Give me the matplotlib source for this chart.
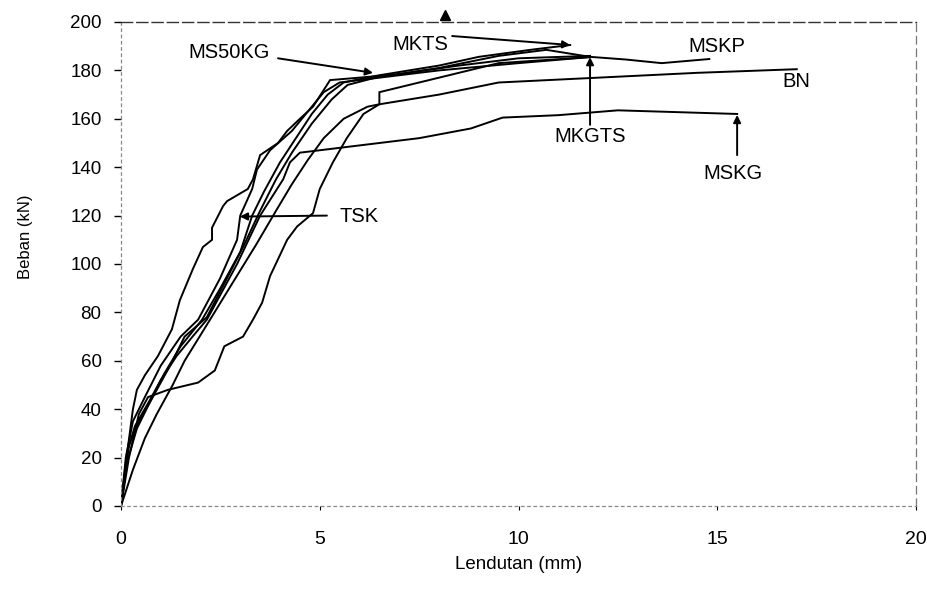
import matplotlib
matplotlib.use('Agg')
import matplotlib.pyplot as plt

plt.rcParams['font.family'] = ['Liberation Sans', 'DejaVu Sans']

# === Load-deflection data (Lendutan mm, Beban kN) ===
ms50kg_x = [0, 0.18, 0.3, 0.4, 0.6, 0.93, 1.28, 1.48, 1.81, 2.06, 2.29, 2.29, 2.57, 2.67, 3.19, 3.32, 3.5, 3.95, 4.18, 4.5, 4.83, 5.26, 6.0, 7.0, 8.5, 10.0, 11.8]
ms50kg_y = [0, 25, 40, 48, 54, 62, 73, 85, 98, 107, 110, 115, 124, 126, 131, 135, 145, 150, 155, 160, 165, 176, 177, 178.5, 182, 185, 186]

tsk_x = [0, 0.12, 0.3, 0.6, 1.0, 1.5, 1.94, 2.49, 2.92, 3.0, 3.3, 3.42, 3.75, 4.3, 4.7, 5.1, 5.5, 6.5, 8.0, 10.0, 11.8]
tsk_y = [0, 20, 35, 45, 58, 70, 77, 94, 110, 120, 131, 139, 147, 155, 163, 171, 175, 177, 180, 183, 185.5]

mkts_x = [0, 0.15, 0.35, 0.7, 1.1, 1.5, 2.04, 2.5, 3.0, 3.3, 3.6, 4.0, 4.4, 4.8, 5.2, 5.6, 6.5, 8.0, 9.0, 10.3, 11.3]
mkts_y = [0, 22, 33, 43, 55, 66, 77, 90, 105, 120, 130, 142, 152, 162, 170, 175, 178, 182, 185.6, 188.5, 190.5]

mskp_x = [0, 0.2, 0.45, 0.8, 1.3, 1.6, 2.16, 2.6, 3.1, 3.5, 3.9, 4.3, 4.8, 5.3, 5.7, 6.4, 8.0, 9.5, 10.7, 11.8, 12.7, 13.6, 14.8]
mskp_y = [0, 25, 35, 45, 60, 70, 78, 92, 108, 122, 135, 146, 158, 168, 174, 177, 181, 186, 188.5, 185.6, 184.5, 183, 184.7]

mkgts_x = [0, 0.3, 0.6, 0.9, 1.3, 1.6, 2.24, 2.8, 3.4, 3.9, 4.3, 4.7, 5.1, 5.6, 6.2, 6.5, 6.5, 8.0, 9.5, 11.8]
mkgts_y = [0, 15, 28, 38, 50, 60, 77, 92, 108, 122, 133, 143, 152, 160, 165, 166, 171, 177, 183, 185.5]

mskg_x = [0, 0.15, 0.4, 0.7, 1.0, 1.4, 1.8, 2.16, 2.92, 3.5, 4.08, 4.25, 4.5, 6.0, 7.5, 8.8, 9.6, 11.0, 12.5, 13.5, 15.5]
mskg_y = [0, 18, 32, 42, 52, 62, 70, 77, 100, 120, 135, 142, 146, 149, 152, 156, 160.5, 161.5, 163.5, 163, 162]

bn_x = [0, 0.2, 0.45, 0.68, 1.18, 1.94, 2.36, 2.6, 3.07, 3.32, 3.55, 3.75, 4.18, 4.43, 4.83, 5.0, 5.33, 5.68, 6.1, 6.5, 8.0, 9.5, 12.0, 14.5, 17.0]
bn_y = [0, 20, 38, 45, 48, 51, 56, 66, 70, 77, 84, 95, 110, 115.5, 121, 131, 142, 152, 162, 166, 170, 175, 177, 179, 180.5]

curves = [(ms50kg_x, ms50kg_y), (tsk_x, tsk_y), (mkts_x, mkts_y), (mskp_x, mskp_y),
          (mkgts_x, mkgts_y), (mskg_x, mskg_y), (bn_x, bn_y)]

# label text, text position, arrow tail/tip (None = plain label)
labels = ['MS50KG', 'MKTS', 'MSKP', 'BN', 'MKGTS', 'MSKG', 'TSK']
label_pos = [(2.73, 187.6), (7.53, 190.5), (15.0, 189.7), (17.0, 175.5), (11.8, 152.8), (15.4, 137.5), (6.0, 119.8)]
arrow_from = [(3.95, 185), (8.33, 194.2), None, None, (11.8, 157.5), (15.5, 145), (5.18, 120)]
arrow_to = [(6.34, 179), (11.3, 190.5), None, None, (11.8, 185.5), (15.5, 161.6), (2.99, 119.6)]

stray_arrow = (8.15, 203)

x_ticks = [0, 5, 10, 15, 20]
y_ticks = list(range(0, 201, 20))

fig = plt.figure(figsize=(9.27, 5.92), dpi=100)
ax = fig.add_axes([121/927, 1 - 506/592, 795/927, 484/592])

for cx, cy in curves:
    ax.plot(cx, cy, color='black', lw=1.4, solid_joinstyle='miter')

for lab, pos, a0, a1 in zip(labels, label_pos, arrow_from, arrow_to):
    ax.text(pos[0], pos[1], lab, fontsize=14.5, ha='center', va='center', color='black')
    if a0 is not None:
        ax.annotate('', xy=a1, xytext=a0,
                    arrowprops=dict(arrowstyle='-|>', color='black', lw=1.4,
                                    mutation_scale=11, shrinkA=0, shrinkB=0))

ax.plot([stray_arrow[0]], [stray_arrow[1]], marker='^', color='black', ms=7, clip_on=False)

ax.set_xlim(0, 20)
ax.set_ylim(0, 200)
ax.set_xticks(x_ticks)
ax.set_yticks(y_ticks)
ax.tick_params(axis='y', length=5, width=1, pad=9, labelsize=13.5, direction='out')
ax.tick_params(axis='x', length=3, width=0.8, pad=15, labelsize=14, direction='out')

ax.spines['top'].set_linestyle((0, (8, 3)))
ax.spines['top'].set_color('#333333')
ax.spines['top'].set_linewidth(1.0)
ax.spines['right'].set_linestyle((0, (6, 4)))
ax.spines['right'].set_color('#777777')
ax.spines['right'].set_linewidth(0.9)
for s in ['left', 'bottom']:
    ax.spines[s].set_linestyle((0, (2, 3)))
    ax.spines[s].set_color('#888888')
    ax.spines[s].set_linewidth(0.9)

ax.set_xlabel('Lendutan (mm)', fontsize=13.5, labelpad=6)
ax.set_ylabel('Beban (kN)', fontsize=12)
ax.yaxis.set_label_coords(-0.111, 0.556)

fig.savefig('out.png', dpi=100)
